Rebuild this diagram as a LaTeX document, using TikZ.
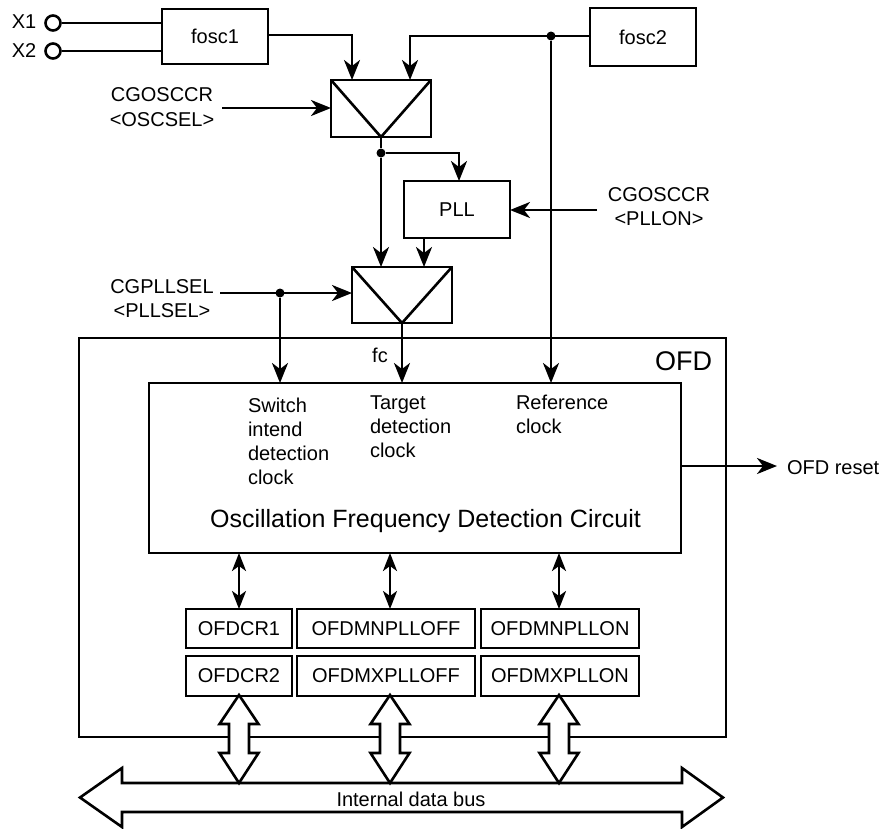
\documentclass[tikz,border=0pt]{standalone}
\usepackage{fontspec}
\setmainfont{Liberation Sans}
\usetikzlibrary{arrows.meta}
\tikzset{
  lw/.style={line width=2.6pt},
  blk/.style={draw, line width=2.6pt, inner sep=0pt, outer sep=0pt, font=\fontsize{20}{24}\selectfont},
  arr/.style={line width=2.6pt, -{Stealth[length=20pt,width=16pt,inset=6pt]}},
  darr/.style={line width=2.6pt, {Stealth[length=18pt,width=14pt,inset=5pt]}-{Stealth[length=18pt,width=14pt,inset=5pt]}},
  lbl/.style={inner sep=0pt, outer sep=0pt, font=\fontsize{20}{24}\selectfont},
  hollow/.style={draw, line width=2.6pt, fill=white, line join=miter},
  jdot/.style={circle, fill, inner sep=0pt, minimum size=9pt},
  pin/.style={circle, draw, line width=2.6pt, fill=white, inner sep=0pt, minimum size=15pt},
}
\begin{document}
\begin{tikzpicture}[x=1pt,y=-1pt]
\useasboundingbox (0,0) rectangle (885,828);

% inputs
\node[lbl, anchor=base] (x1t) at (24,28) {X1};
\node[lbl, anchor=base] (x2t) at (24,57) {X2};
\node[pin] (x1) at (53,23) {};
\node[pin] (x2) at (53,51) {};

% blocks
\node[blk, minimum width=106pt, minimum height=55pt] (fosc1) at (215,36.5) {fosc1};
\node[blk, minimum width=106pt, minimum height=58pt] (fosc2) at (643,37) {fosc2};
\node[blk, minimum width=100pt, minimum height=57pt] (mux1) at (381,108.5) {};
\draw[lw] (mux1.north west) -- (mux1.south) -- (mux1.north east);
\node[blk, minimum width=106pt, minimum height=57pt] (pll) at (457,209.5) {PLL};
\node[blk, minimum width=100pt, minimum height=56pt] (mux2) at (402,295) {};
\draw[lw] (mux2.north west) -- (mux2.south) -- (mux2.north east);

% OFD frame and circuit
\node[blk, minimum width=647pt, minimum height=399pt] (ofd) at (402.5,537.5) {};
\node[lbl, anchor=base east, font=\fontsize{27}{30}\selectfont] (ofdt) at (712,370) {OFD};
\node[blk, minimum width=532pt, minimum height=170pt] (inner) at (415,468) {};
\node[lbl, anchor=base, font=\fontsize{25}{30}\selectfont] (ofdc) at (425.5,527) {Oscillation Frequency Detection Circuit};
\node[lbl, anchor=north west, align=left] (sw) at (248,397.5) {Switch\\intend\\detection\\clock};
\node[lbl, anchor=north west, align=left] (tg) at (370,395.5) {Target\\detection\\clock};
\node[lbl, anchor=north west, align=left] (rf) at (516,395.5) {Reference\\clock};

% registers
\node[blk, minimum width=106pt, minimum height=39pt] (r11) at (239,628.5) {OFDCR1};
\node[blk, minimum width=178pt, minimum height=39pt] (r12) at (386,628.5) {OFDMNPLLOFF};
\node[blk, minimum width=158pt, minimum height=39pt] (r13) at (560,628.5) {OFDMNPLLON};
\node[blk, minimum width=106pt, minimum height=40pt] (r21) at (239,676) {OFDCR2};
\node[blk, minimum width=178pt, minimum height=40pt] (r22) at (386,676) {OFDMXPLLOFF};
\node[blk, minimum width=158pt, minimum height=40pt] (r23) at (560,676) {OFDMXPLLON};

% labels
\node[lbl, anchor=north, align=center, font=\fontsize{20}{25}\selectfont] (oscsel) at (162,88) {CGOSCCR\\<OSCSEL>};
\node[lbl, anchor=north, align=center, font=\fontsize{20}{23.5}\selectfont] (pllsel) at (162,280) {CGPLLSEL\\<PLLSEL>};
\node[lbl, anchor=north, align=center] (pllon) at (659,188) {CGOSCCR\\<PLLON>};
\node[lbl, anchor=base] (fc) at (380,362) {fc};
\node[lbl, anchor=base west] (rst) at (787,474) {OFD reset};

% coordinates
\coordinate (oscin) at (222,108);
\coordinate (pllonin) at (597,210);
\coordinate (pllselin) at (220,293);
\coordinate (rstout) at (777,466);
\node[jdot] (d1) at (551,36) {};
\node[jdot] (d2) at (381,153) {};
\node[jdot] (d3) at (280,293) {};

% connections
\draw[lw] (x1.east) -- (x1.east -| fosc1.west);
\draw[lw] (x2.east) -- (x2.east -| fosc1.west);
\draw[arr] (fosc1.east |- 0,35) -| ([xshift=-29pt]mux1.north);
\draw[arr] (fosc2.west |- d1) -| ([xshift=29pt]mux1.north);
\draw[arr] (d1) -- (d1 |- inner.north);
\draw[arr] (oscin) -- (oscin -| mux1.west);
\draw[lw] (mux1.south) -- (d2);
\draw[arr] (d2) -| ([xshift=2pt]pll.north);
\draw[arr] (d2) -- (d2 |- mux2.north);
\draw[arr] ([xshift=-33pt]pll.south) -- ([xshift=-33pt]pll.south |- mux2.north);
\draw[arr] (pllonin) -- (pllonin -| pll.east);
\draw[arr] (pllselin) -- (pllselin -| mux2.west);
\draw[arr] (d3) -- (d3 |- inner.north);
\draw[arr] (mux2.south) -- (mux2.south |- inner.north);
\draw[arr] (rstout -| inner.east) -- (rstout);
\draw[darr] (239,0 |- inner.south) -- (239,0 |- r11.north);
\draw[darr] (390,0 |- inner.south) -- (390,0 |- r12.north);
\draw[darr] (559,0 |- inner.south) -- (559,0 |- r13.north);

% internal data bus
\draw[hollow] (80,797.5) -- (122,768) -- (122,783) -- (682,783) -- (682,768) -- (723,797.5)
  -- (682,827) -- (682,812) -- (122,812) -- (122,827) -- cycle;
\node[lbl, anchor=base] (bus) at (411,806) {Internal data bus};

% hollow double arrows
\foreach \c in {239,390,559}{
  \draw[hollow] (\c,695) -- (\c+19.5,724) -- (\c+10,724) -- (\c+10,753) -- (\c+19.5,753) -- (\c,783)
    -- (\c-19.5,753) -- (\c-10,753) -- (\c-10,724) -- (\c-19.5,724) -- cycle;
}
\end{tikzpicture}
\end{document}
